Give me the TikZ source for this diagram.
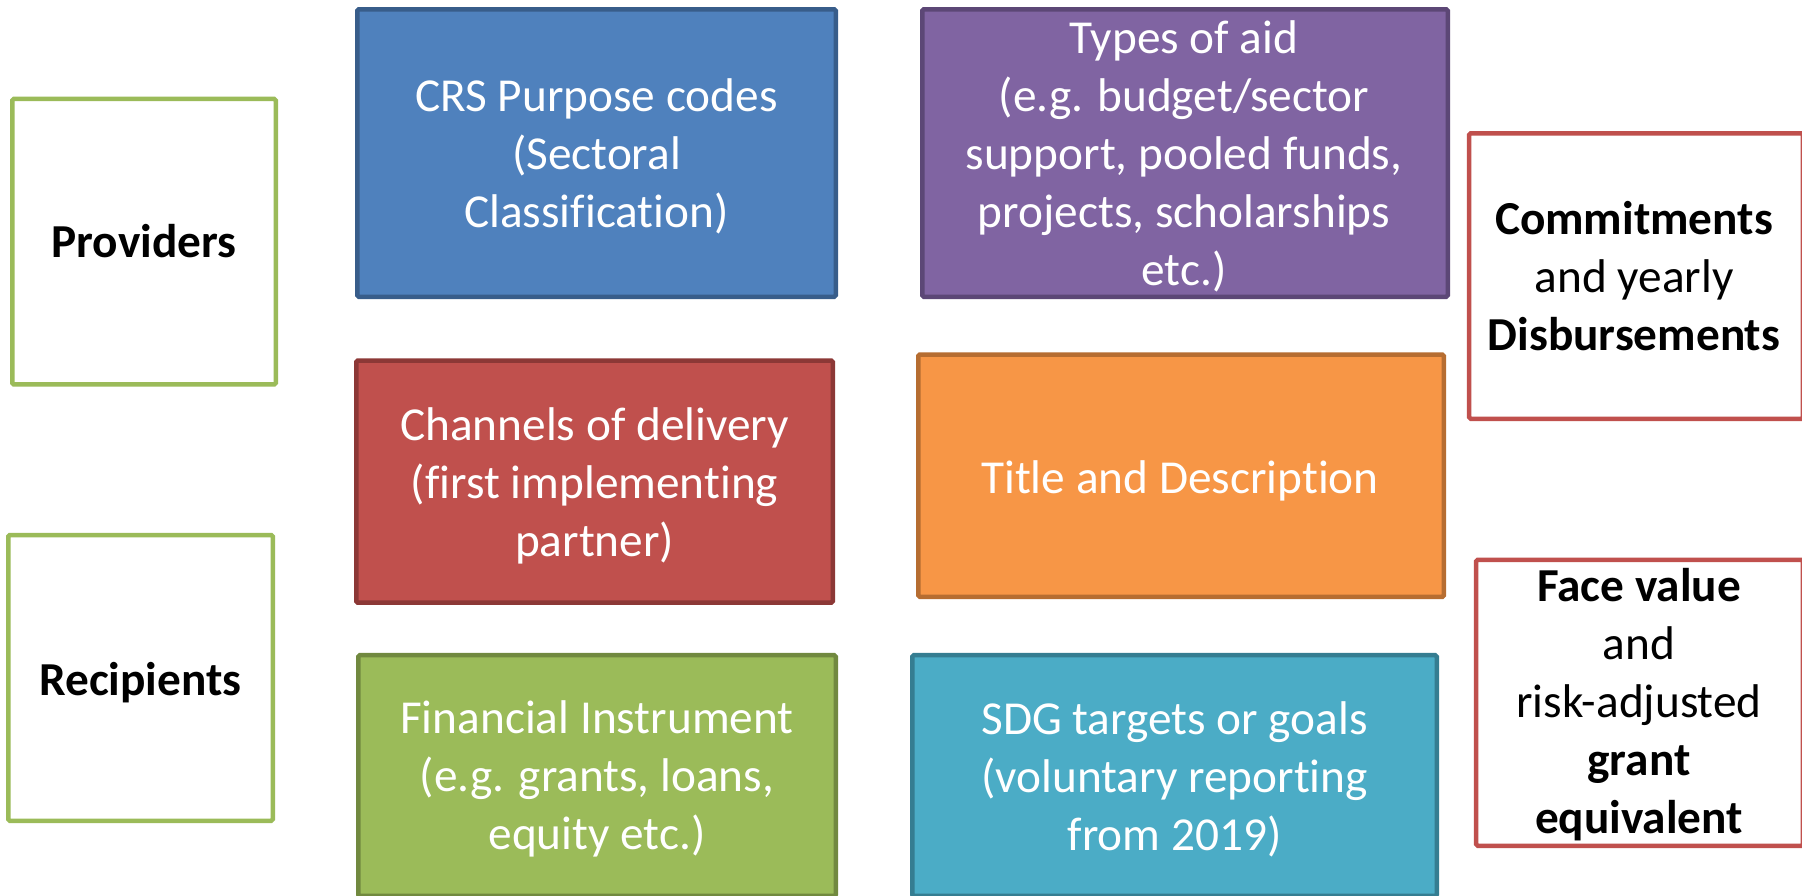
\documentclass[tikz,border=0pt]{standalone}
\usepackage{fontspec}
\setmainfont{Carlito}[Ligatures={NoCommon}]
\definecolor{blueF}{HTML}{4F81BD}\definecolor{blueD}{HTML}{385D8A}
\definecolor{purpF}{HTML}{8064A2}\definecolor{purpD}{HTML}{5C4776}
\definecolor{redF}{HTML}{C0504D}\definecolor{redD}{HTML}{8C3836}
\definecolor{oranF}{HTML}{F79646}\definecolor{oranD}{HTML}{B66D31}
\definecolor{grnF}{HTML}{9BBB59}\definecolor{grnD}{HTML}{71893F}
\definecolor{tealF}{HTML}{4BACC6}\definecolor{tealD}{HTML}{357D91}
\begin{document}
\begin{tikzpicture}[x=1pt,y=-1pt,
  box/.style={draw, line width=4.5pt, rounded corners=1.5pt, inner sep=0pt},
  wtxt/.style={text=white, align=center, inner sep=0pt, font=\fontsize{47.3}{58}\selectfont},
  btxt/.style={text=black, align=center, inner sep=0pt, font=\fontsize{47.3}{58}\selectfont}]
\path[use as bounding box, fill=white] (0,0) rectangle (1802,895);
\clip (0,0) rectangle (1802,895);
% left outline boxes
\node[box, draw=grnF, fill=white, minimum width=263.5pt, minimum height=285.5pt] (prov) at (144,241.7) {};
\node[box, draw=grnF, fill=white, minimum width=264.5pt, minimum height=285.8pt] (reci) at (140.5,677.9) {};
% coloured boxes
\node[box, draw=blueD, fill=blueF, minimum width=478.5pt, minimum height=287.5pt] (crs) at (596.5,153) {};
\node[box, draw=purpD, fill=purpF, minimum width=525.5pt, minimum height=287.5pt] (types) at (1185,153) {};
\node[box, draw=redD, fill=redF, minimum width=476.5pt, minimum height=242pt] (chan) at (594.5,481.6) {};
\node[box, draw=oranD, fill=oranF, minimum width=525.5pt, minimum height=242.2pt] (title) at (1181,475.7) {};
\node[box, draw=grnD, fill=grnF, minimum width=477.5pt, minimum height=240.75pt] (fin) at (597,775.6) {};
\node[box, draw=tealD, fill=tealF, minimum width=524.5pt, minimum height=240.75pt] (sdg) at (1174.5,775.6) {};
% right outline boxes
\node[box, draw=redF, fill=white, minimum width=333.75pt, minimum height=285.5pt] (comm) at (1636.1,276) {};
\node[box, draw=redF, fill=white, minimum width=326.75pt, minimum height=286pt] (face) at (1639.6,702.75) {};
% texts
\node[btxt] (provt) at (144,240.7) {\textbf{Providers}};
\node[btxt] (recit) at (140.5,682.5) {\textbf{Recipients}};
\node[wtxt] (crst) at (596.5,156.3) {CRS Purpose codes\\(Sectoral\\Classification)};
\node[wtxt] (typest) at (1184,156) {Types of aid\\(e.g. budget/sector\\support, pooled funds,\\projects, scholarships\\etc.)};
\node[wtxt] (chant) at (594.6,485.5) {Channels of delivery\\(first implementing\\partner)};
\node[wtxt] (titlet) at (1180,480.4) {Title and Description};
\node[wtxt] (fint) at (597,779.3) {Financial Instrument\\(e.g. grants, loans,\\equity etc.)};
\node[wtxt] (sdgt) at (1174.5,779) {SDG targets or goals\\(voluntary reporting\\from 2019)};
\node[btxt] (commt) at (1634,275.7) {\textbf{Commitments}\\and yearly\\\textbf{Disbursements}};
\node[btxt] (facet) at (1639,705) {\textbf{Face value}\\and\\risk-adjusted\\\textbf{grant}\\\textbf{equivalent}};
\end{tikzpicture}
\end{document}
